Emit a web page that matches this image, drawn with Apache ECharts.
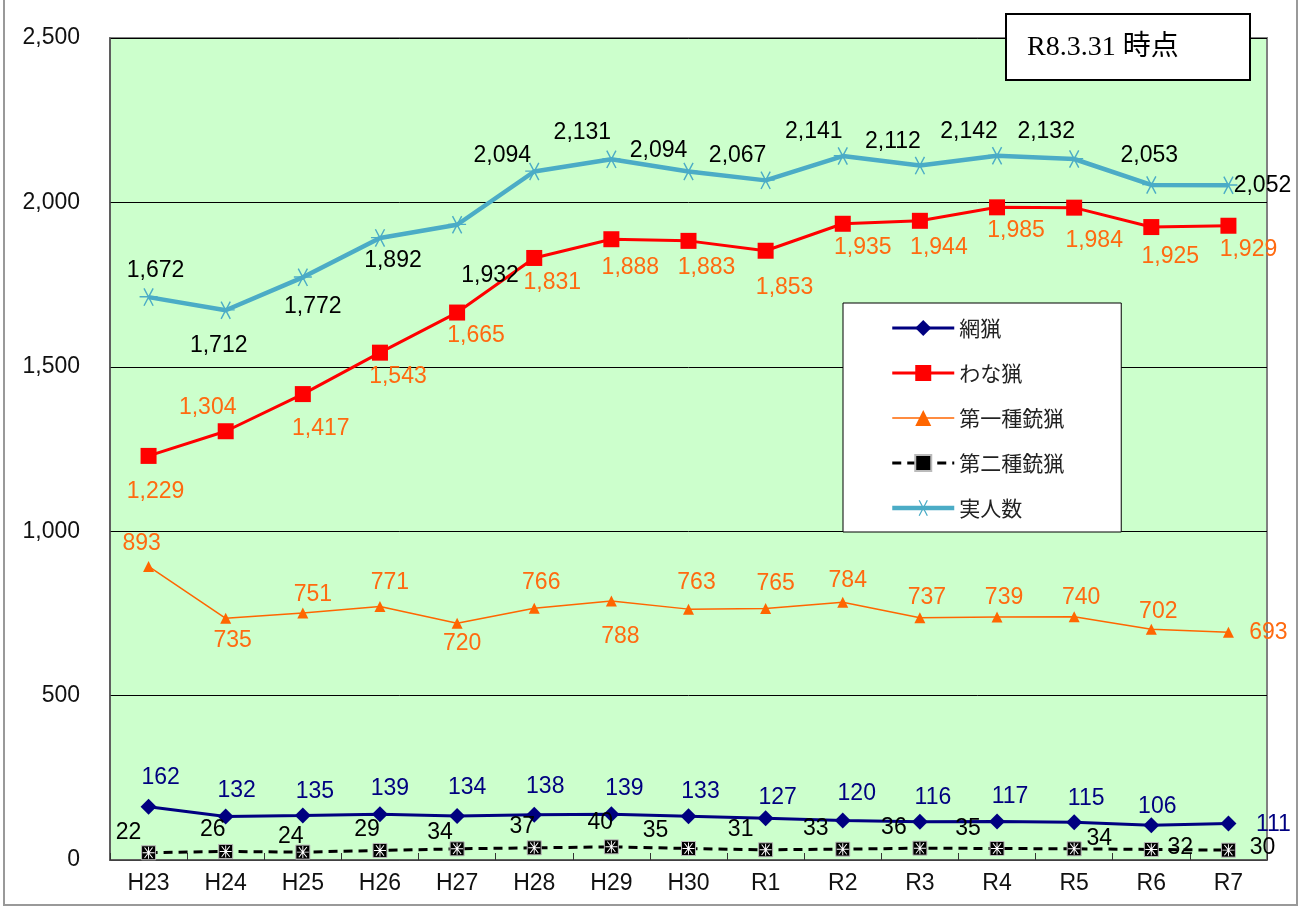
<!DOCTYPE html>
<html><head><meta charset="utf-8">
<script src="https://cdn.jsdelivr.net/npm/echarts@6/dist/echarts.min.js"></script>
<style>html,body{margin:0;padding:0;background:#fff}#c{width:1303px;height:909px}</style>
</head><body><div id="c"></div>
<script>
const categories = ['H23','H24','H25','H26','H27','H28','H29','H30','R1','R2','R3','R4','R5','R6','R7'];
const amiRyo   = [162,132,135,139,134,138,139,133,127,120,116,117,115,106,111];
const wanaRyo  = [1229,1304,1417,1543,1665,1831,1888,1883,1853,1935,1944,1985,1984,1925,1929];
const daiichi  = [893,735,751,771,720,766,788,763,765,784,737,739,740,702,693];
const daini    = [22,26,24,29,34,37,40,35,31,33,36,35,34,32,30];
const jitsu    = [1712,1672,1772,1892,1932,2094,2131,2094,2067,2141,2112,2142,2132,2053,2052];
// data label texts as printed in the reference (H23/H24 labels of 実人数 appear swapped there)
const jitsuLabels = ['1,672','1,712','1,772','1,892','1,932','2,094','2,131','2,094','2,067','2,141','2,112','2,142','2,132','2,053','2,052'];
const yTicks = [0,500,1000,1500,2000,2500];
const dateNote = 'R8.3.31 時点';

// label offsets (style only)
const offAmi   = [[12,-29],[11,-26],[12,-24],[10,-26],[10,-28],[11,-28],[13,-26],[12,-25],[12,-21],[14,-27],[13,-24],[13,-25],[12,-24],[6,-18],[45,1]];
const offWana  = [[7,36],[-18,-24],[18,35],[18,24],[19,23],[18,25],[19,28],[18,27],[19,37],[20,24],[19,27],[19,23],[20,33],[19,30],[20,24]];
const offIchi  = [[-7,-23],[7,22],[10,-18],[10,-24],[5,20],[7,-25],[9,36],[8,-26],[10,-25],[5,-22],[7,-20],[7,-19],[7,-19],[7,-18],[40,1]];
const offNi    = [[-20,-20],[-13,-22],[-12,-15],[-13,-21],[-17,-16],[-12,-21],[-11,-24],[-33,-18],[-25,-20],[-27,-20],[-26,-21],[-29,-20],[25,-10],[29,-2],[34,-2]];
const offJitsu = [[7,-26],[-7,35],[10,29],[13,23],[33,51],[-32,-16],[-29,-27],[-30,-21],[-28,-25],[-29,-24],[-27,-24],[-28,-24],[-28,-27],[-2,-29],[34,0]];

const FONT = '"Liberation Sans", Arial, "Noto Sans CJK JP", sans-serif';
const fmt = v => v.toLocaleString('en-US');

function mk(vals, offs, texts) {
  return vals.map((v, i) => ({
    value: v,
    label: { offset: offs[i], formatter: texts ? texts[i] : fmt(v) }
  }));
}
function lbl(color) {
  return { show: true, position: 'inside', color: color, fontSize: 23, fontFamily: FONT,
           align: 'center', verticalAlign: 'middle' };
}

const asterisk = 'path://M9.2,0 L10.8,0 L10.8,20 L9.2,20 Z M0,9.2 L20,9.2 L20,10.8 L0,10.8 Z M2.6,1.7 L4,0.9 L17.4,18.3 L16,19.1 Z M16,0.9 L17.4,1.7 L4,19.1 L2.6,18.3 Z';
const asteriskH = 'path://M0,9.2 L20,9.2 L20,10.8 L0,10.8 Z M4.2,0.6 L5.6,-0.2 L15.8,20.2 L14.4,21 Z M14.4,-0.2 L15.8,0.6 L5.6,21 L4.2,20.2 Z';

const chart = echarts.init(document.getElementById('c'));
chart.setOption({
  animation: false,
  backgroundColor: '#ffffff',
  textStyle: { fontFamily: FONT },
  grid: { left: 110, top: 38, right: 36, bottom: 49, show: true,
          backgroundColor: '#CCFFCC', borderColor: '#808080', borderWidth: 2 },
  xAxis: {
    type: 'category', data: categories, boundaryGap: true,
    axisLine: { lineStyle: { color: '#555', width: 1.5 } },
    axisTick: { show: true, inside: true, length: 7, lineStyle: { color: '#333' } },
    axisLabel: { color: '#111', fontSize: 23, margin: 12, fontFamily: FONT }
  },
  yAxis: {
    type: 'value', min: 0, max: 2500, interval: 500,
    axisLine: { show: true, lineStyle: { color: '#555', width: 1.5 } },
    axisTick: { show: false },
    splitLine: { lineStyle: { color: '#000', width: 1 } },
    axisLabel: { color: '#111', fontSize: 23, margin: 30, fontFamily: FONT,
                 formatter: v => yTicks.includes(v) ? fmt(v) : '' }
  },
  legend: {
    orient: 'vertical', left: 843, top: 303,
    backgroundColor: '#ffffff', borderColor: '#000', borderWidth: 1,
    padding: [14, 57, 13, 47], itemWidth: 62, itemHeight: 20, itemGap: 23,
    textStyle: { fontSize: 21, color: '#222', lineHeight: 22, fontFamily: '"Noto Sans CJK JP", sans-serif' },
    data: [
      { name: '網猟', lineStyle: { width: 3 } },
      { name: 'わな猟', lineStyle: { width: 3 } },
      { name: '第一種銃猟', lineStyle: { width: 1.5 } },
      { name: '第二種銃猟', lineStyle: { width: 3 } },
      { name: '実人数', lineStyle: { width: 4.5 } }
    ]
  },
  graphic: [
    { type: 'rect', shape: { x: 4, y: -5, width: 1293, height: 910 }, silent: true, z: -10,
      style: { fill: 'none', stroke: '#999', lineWidth: 2 } },
    { type: 'rect', shape: { x: 1006, y: 14, width: 244, height: 66 }, z: 100,
      style: { fill: '#fff', stroke: '#000', lineWidth: 2 } },
    { type: 'text', x: 1027, y: 48, z: 101,
      style: { text: dateNote, fontSize: 28, fill: '#000', verticalAlign: 'middle',
               fontFamily: '"Liberation Serif", "DejaVu Serif", "Noto Sans CJK JP", serif' } }
  ],
  series: [
    { name: '網猟', type: 'line', data: mk(amiRyo, offAmi), symbol: 'diamond', symbolSize: 16,
      itemStyle: { color: '#000080' }, lineStyle: { color: '#000080', width: 3 },
      label: lbl('#000080'), z: 5 },
    { name: 'わな猟', type: 'line', data: mk(wanaRyo, offWana), symbol: 'rect', symbolSize: 16,
      itemStyle: { color: '#FF0000' }, lineStyle: { color: '#FF0000', width: 3 },
      label: lbl('#FF6A10'), z: 5 },
    { name: '第一種銃猟', type: 'line', data: mk(daiichi, offIchi), symbol: 'triangle', symbolSize: 11,
      itemStyle: { color: '#FF6600' }, lineStyle: { color: '#FF6600', width: 1.5 },
      label: lbl('#FF6A10'), z: 5 },
    { name: '第二種銃猟', type: 'line', data: mk(daini, offNi), symbol: 'rect', symbolSize: 14,
      itemStyle: { color: '#000', borderColor: '#bbb', borderWidth: 1 },
      lineStyle: { color: '#000', width: 3, type: [9, 6] },
      label: lbl('#000'), z: 5 },
    { name: '第二種銃猟mark', type: 'line', data: daini, symbol: asterisk, symbolSize: 12,
      showSymbol: true, silent: true, lineStyle: { opacity: 0 }, itemStyle: { color: '#fff' },
      label: { show: false }, z: 6, legendHoverLink: false },
    { name: '実人数', type: 'line', data: mk(jitsu, offJitsu, jitsuLabels), symbol: asteriskH, symbolSize: 18,
      itemStyle: { color: '#4BACC6' }, lineStyle: { color: '#4BACC6', width: 4.5 },
      label: lbl('#000'), z: 5 }
  ]
});
</script></body></html>
